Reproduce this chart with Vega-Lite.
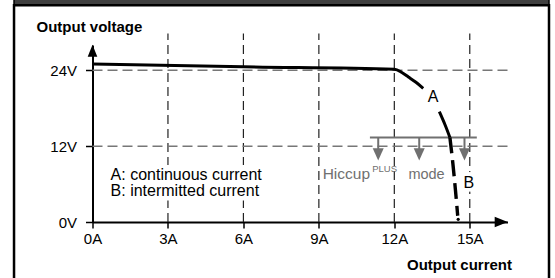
{
  "$schema": "https://vega.github.io/schema/vega-lite/v6.json",
  "width": 415,
  "height": 177,
  "autosize": {"type": "none"},
  "padding": {"left": 92.5, "top": 45, "right": 47.5, "bottom": 56},
  "background": "white",
  "config": {"view": {"stroke": null}, "font": "Liberation Sans"},
  "datasets": {
    "frame": [{"x": -3.12, "x2": 18.15, "y": -10, "y2": 34.3}],
    "header": [{"x": -3.12, "x2": 18.15, "y": 34.3, "y2": 36}],
    "vgrid": [
      {"x": 3, "y": 0, "y2": 29.8},
      {"x": 6, "y": 0, "y2": 29.8},
      {"x": 9, "y": 0, "y2": 29.8},
      {"x": 12, "y": 0, "y2": 29.8},
      {"x": 15, "y": 0, "y2": 29.8}
    ],
    "hgrid": [
      {"x": 0, "x2": 16.5, "y": 12},
      {"x": 0, "x2": 16.5, "y": 24}
    ],
    "boxes": [
      {"x": 0.6, "x2": 6.95, "y": 3.4, "y2": 9.0},
      {"x": 14.8, "x2": 15.12, "y": 4.8, "y2": 7.9}
    ],
    "curve": [
      {"seg": "a1", "x": 0, "y": 25.0},
      {"seg": "a1", "x": 6, "y": 24.55},
      {"seg": "a1", "x": 12, "y": 24.16},
      {"seg": "a1", "x": 12.3, "y": 23.65},
      {"seg": "a1", "x": 12.56, "y": 22.94},
      {"seg": "a1", "x": 12.86, "y": 22.1},
      {"seg": "a1", "x": 13.15, "y": 21.15},
      {"seg": "a2", "x": 13.79, "y": 17.45},
      {"seg": "a2", "x": 14.02, "y": 15.34},
      {"seg": "a2", "x": 14.21, "y": 13.37}
    ],
    "curveB": [
      {"x": 14.21, "y": 13.37},
      {"x": 14.33, "y": 9.17},
      {"x": 14.43, "y": 5.06},
      {"x": 14.52, "y": 0.99}
    ],
    "dot": [{"x": 14.54, "y": 0.42}],
    "hiccup": [{"x": 11.03, "x2": 15.28, "y": 13.37}],
    "shafts": [
      {"x": 11.36, "y": 13.37, "y2": 11.2},
      {"x": 12.99, "y": 13.37, "y2": 11.2},
      {"x": 14.79, "y": 13.37, "y2": 11.2}
    ],
    "heads": [
      {"x": 11.36, "y": 10.68},
      {"x": 12.99, "y": 10.68},
      {"x": 14.79, "y": 10.68}
    ],
    "arrowRight": [{"x": 16.25, "y": 0}],
    "arrowUp": [{"x": 0, "y": 27.1}],
    "legendText": [
      {"x": 0.72, "y": 6.64, "text": "A: continuous current"},
      {"x": 0.72, "y": 4.16, "text": "B: intermitted current"}
    ],
    "curveLabels": [
      {"x": 13.54, "y": 19.03, "text": "A"},
      {"x": 14.96, "y": 5.33, "text": "B"}
    ],
    "hiccupText": [{"x": 9.15, "y": 6.75, "text": "Hiccup"}],
    "modeText": [{"x": 12.56, "y": 6.75, "text": "mode"}],
    "plusText": [{"x": 11.12, "y": 7.91, "text": "PLUS"}]
  },
  "encoding": {
    "x": {
      "field": "x",
      "type": "quantitative",
      "scale": {"domain": [0, 16.5], "nice": false, "zero": false},
      "axis": {
        "values": [0, 3, 6, 9, 12, 15],
        "labelExpr": "datum.value + 'A'",
        "grid": false,
        "domainColor": "black",
        "domainWidth": 2,
        "tickColor": "black",
        "tickWidth": 1.5,
        "tickSize": 6,
        "labelPadding": 3,
        "labelFontSize": 15,
        "labelColor": "black",
        "labelFlush": false,
        "labelOverlap": false,
        "title": "Output current",
        "titleFontSize": 15,
        "titleFontWeight": "bold",
        "titleColor": "black",
        "titleAlign": "right",
        "titleBaseline": "alphabetic",
        "titleX": 419,
        "titleY": 47
      }
    },
    "y": {
      "field": "y",
      "type": "quantitative",
      "scale": {"domain": [0, 28], "nice": false, "zero": false},
      "axis": {
        "values": [0, 12, 24],
        "labelExpr": "datum.value + 'V'",
        "grid": false,
        "domainColor": "black",
        "domainWidth": 2,
        "tickColor": "black",
        "tickWidth": 1.5,
        "tickSize": 7,
        "labelPadding": 9,
        "labelFontSize": 15,
        "labelColor": "black",
        "labelFlush": false,
        "labelOverlap": false,
        "title": "Output voltage",
        "titleFontSize": 15,
        "titleFontWeight": "bold",
        "titleColor": "black",
        "titleAngle": 0,
        "titleAlign": "left",
        "titleBaseline": "alphabetic",
        "titleX": -56.5,
        "titleY": -13.3
      }
    }
  },
  "layer": [
    {
      "data": {"name": "header"},
      "mark": {"type": "rect", "fill": "#404040", "stroke": "black", "strokeWidth": 1.5},
      "encoding": {"x2": {"field": "x2"}, "y2": {"field": "y2"}}
    },
    {
      "data": {"name": "frame"},
      "mark": {"type": "rect", "fill": null, "stroke": "black", "strokeWidth": 2.5},
      "encoding": {"x2": {"field": "x2"}, "y2": {"field": "y2"}}
    },
    {
      "data": {"name": "vgrid"},
      "mark": {"type": "rule", "stroke": "#222222", "strokeWidth": 1.2, "strokeDash": [9, 5]},
      "encoding": {"y2": {"field": "y2"}}
    },
    {
      "data": {"name": "hgrid"},
      "mark": {"type": "rule", "stroke": "#777777", "strokeWidth": 1.5, "strokeDash": [10, 5]},
      "encoding": {"x2": {"field": "x2"}}
    },
    {
      "data": {"name": "boxes"},
      "mark": {"type": "rect", "fill": "white", "stroke": null},
      "encoding": {"x2": {"field": "x2"}, "y2": {"field": "y2"}}
    },
    {
      "data": {"name": "hiccup"},
      "mark": {"type": "rule", "stroke": "#707070", "strokeWidth": 2},
      "encoding": {"x2": {"field": "x2"}}
    },
    {
      "data": {"name": "shafts"},
      "mark": {"type": "rule", "stroke": "#707070", "strokeWidth": 2},
      "encoding": {"y2": {"field": "y2"}}
    },
    {
      "data": {"name": "heads"},
      "mark": {"type": "point", "shape": "M-0.9,-1L0.9,-1L0,1Z", "filled": true, "fill": "#707070", "stroke": null, "size": 150, "opacity": 1}
    },
    {
      "data": {"name": "curve"},
      "mark": {"type": "line", "stroke": "black", "strokeWidth": 3, "interpolate": "monotone"},
      "encoding": {"detail": {"field": "seg"}}
    },
    {
      "data": {"name": "curveB"},
      "mark": {"type": "line", "stroke": "black", "strokeWidth": 3.4, "strokeDash": [16, 7], "interpolate": "monotone"}
    },
    {
      "data": {"name": "dot"},
      "mark": {"type": "point", "shape": "circle", "filled": true, "fill": "black", "size": 10, "opacity": 1}
    },
    {
      "data": {"name": "arrowRight"},
      "mark": {"type": "point", "shape": "M-1,-0.8L1,0L-1,0.8Z", "filled": true, "fill": "black", "stroke": null, "size": 169, "opacity": 1}
    },
    {
      "data": {"name": "arrowUp"},
      "mark": {"type": "point", "shape": "M0,-1L0.8,1L-0.8,1Z", "filled": true, "fill": "black", "stroke": null, "size": 144, "opacity": 1}
    },
    {
      "data": {"name": "legendText"},
      "mark": {"type": "text", "align": "left", "baseline": "alphabetic", "fontSize": 16, "fill": "black"},
      "encoding": {"text": {"field": "text"}}
    },
    {
      "data": {"name": "curveLabels"},
      "mark": {"type": "text", "align": "center", "baseline": "alphabetic", "fontSize": 16, "fill": "black"},
      "encoding": {"text": {"field": "text"}}
    },
    {
      "data": {"name": "hiccupText"},
      "mark": {"type": "text", "align": "left", "baseline": "alphabetic", "fontSize": 15.5, "fill": "#707070"},
      "encoding": {"text": {"field": "text"}}
    },
    {
      "data": {"name": "modeText"},
      "mark": {"type": "text", "align": "left", "baseline": "alphabetic", "fontSize": 14.5, "fill": "#707070"},
      "encoding": {"text": {"field": "text"}}
    },
    {
      "data": {"name": "plusText"},
      "mark": {"type": "text", "align": "left", "baseline": "alphabetic", "fontSize": 9.5, "fill": "#707070"},
      "encoding": {"text": {"field": "text"}}
    }
  ]
}
